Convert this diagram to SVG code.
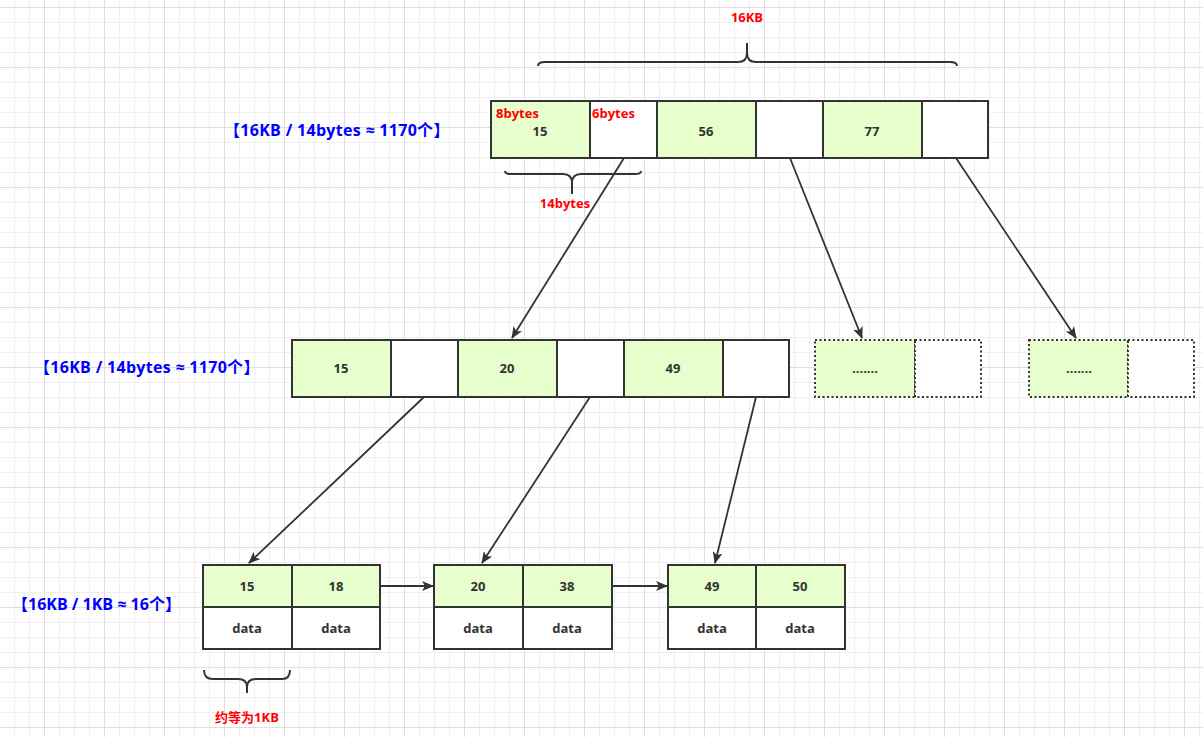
<svg xmlns="http://www.w3.org/2000/svg" width="1203" height="737" viewBox="0 0 1203 737">
<defs>
<pattern id="grid" x="44" y="7" width="60" height="60" patternUnits="userSpaceOnUse">
<rect x="0" y="0" width="60" height="60" fill="#ffffff"/>
<rect x="15" y="0" width="1" height="60" fill="#efefef"/>
<rect x="30" y="0" width="1" height="60" fill="#efefef"/>
<rect x="45" y="0" width="1" height="60" fill="#efefef"/>
<rect x="0" y="15" width="60" height="1" fill="#efefef"/>
<rect x="0" y="30" width="60" height="1" fill="#efefef"/>
<rect x="0" y="45" width="60" height="1" fill="#efefef"/>
<rect x="0" y="0" width="1" height="60" fill="#dedede"/>
<rect x="0" y="0" width="60" height="1" fill="#dedede"/>
</pattern>
<marker id="arr" viewBox="0 0 12 10" refX="11" refY="5" markerWidth="12" markerHeight="10" markerUnits="userSpaceOnUse" orient="auto">
<path d="M0,0 L12,5 L0,10 L3,5 Z" fill="#333333"/>
</marker>
</defs>
<style>
.g{fill:#e6ffcc;stroke:#333333;stroke-width:2}
.w{fill:#ffffff;stroke:#333333;stroke-width:2}
.gd{fill:#e6ffcc;stroke:#333333;stroke-width:2;stroke-dasharray:2 2.5}
.wd{fill:#ffffff;stroke:#333333;stroke-width:2;stroke-dasharray:2 2.5}
.t{font-family:"Open Sans","Noto Sans CJK SC",sans-serif;font-weight:bold;font-size:13px;fill:#333333;text-anchor:middle;dominant-baseline:central}
.red{font-family:"Open Sans","Noto Sans CJK SC",sans-serif;font-weight:bold;font-size:13px;fill:#ff0000}
.blue{font-family:"Open Sans","Noto Sans CJK SC",sans-serif;font-weight:bold;font-size:16px;letter-spacing:0.3px;fill:#0000ff;dominant-baseline:central}
.brace{fill:none;stroke:#333333;stroke-width:2}
.edge{fill:none;stroke:#333333;stroke-width:1.8;marker-end:url(#arr)}
</style>
<rect x="0" y="0" width="1203" height="737" fill="url(#grid)"/>

<g id="labels">
<text class="red" x="747" y="22" text-anchor="middle">16KB</text>
<text class="red" x="565" y="208" text-anchor="middle">14bytes</text>
<text class="red" x="247" y="722" text-anchor="middle">约等为1KB</text>
<text class="blue" x="224" y="130">【16KB / 14bytes ≈ 1170个】</text>
<text class="blue" x="34" y="367">【16KB / 14bytes ≈ 1170个】</text>
<text class="blue" x="12" y="604" style="letter-spacing:0">【16KB / 1KB ≈ 16个】</text>
</g>

<g id="braces">
<path class="brace" d="M538,66 Q538,62 545,62 L738,62 Q747,62 747,53 L747,43 M747,53 Q747,62 756,62 L950,62 Q957,62 957,66"/>
<path class="brace" d="M505,171 Q505,174 511,174 L563,174 Q572,174 572,183 L572,194 M572,183 Q572,174 581,174 L635,174 Q641,174 641,171"/>
<path class="brace" d="M204,670 Q204,679 213,679 L238,679 Q247,679 247,687 L247,693 M247,687 Q247,679 256,679 L282,679 Q290,679 290,670"/>
</g>

<g id="root">
<rect class="g" x="491" y="101" width="99" height="57"/>
<rect class="w" x="590" y="101" width="67" height="57"/>
<rect class="g" x="657" y="101" width="99" height="57"/>
<rect class="w" x="756" y="101" width="67" height="57"/>
<rect class="g" x="823" y="101" width="99" height="57"/>
<rect class="w" x="922" y="101" width="66" height="57"/>
<text class="t" x="540" y="131">15</text>
<text class="t" x="706" y="131">56</text>
<text class="t" x="872" y="131">77</text>
<text class="red" x="496" y="118">8bytes</text>
<text class="red" x="592" y="118">6bytes</text>
</g>

<g id="mid">
<rect class="g" x="292" y="340" width="99" height="57"/>
<rect class="w" x="391" y="340" width="67" height="57"/>
<rect class="g" x="458" y="340" width="99" height="57"/>
<rect class="w" x="557" y="340" width="67" height="57"/>
<rect class="g" x="624" y="340" width="99" height="57"/>
<rect class="w" x="723" y="340" width="66" height="57"/>
<text class="t" x="341" y="368">15</text>
<text class="t" x="507" y="368">20</text>
<text class="t" x="673" y="368">49</text>
</g>

<g id="mid2">
<rect class="gd" x="815" y="340" width="100" height="57"/>
<rect class="wd" x="915" y="340" width="66" height="57"/>
<text class="t" x="865" y="368">.......</text>
</g>

<g id="mid3">
<rect class="gd" x="1029" y="340" width="99" height="57"/>
<rect class="wd" x="1128" y="340" width="66" height="57"/>
<text class="t" x="1079" y="368">.......</text>
</g>

<g id="leaf1">
<rect class="g" x="203" y="565" width="89" height="42"/>
<rect class="g" x="292" y="565" width="88" height="42"/>
<rect class="w" x="203" y="607" width="89" height="42"/>
<rect class="w" x="292" y="607" width="88" height="42"/>
<text class="t" x="247" y="586">15</text>
<text class="t" x="336" y="586">18</text>
<text class="t" x="247" y="628">data</text>
<text class="t" x="336" y="628">data</text>
</g>

<g id="leaf2">
<rect class="g" x="434" y="565" width="89" height="42"/>
<rect class="g" x="523" y="565" width="89" height="42"/>
<rect class="w" x="434" y="607" width="89" height="42"/>
<rect class="w" x="523" y="607" width="89" height="42"/>
<text class="t" x="478" y="586">20</text>
<text class="t" x="567" y="586">38</text>
<text class="t" x="478" y="628">data</text>
<text class="t" x="567" y="628">data</text>
</g>

<g id="leaf3">
<rect class="g" x="668" y="565" width="88" height="42"/>
<rect class="g" x="756" y="565" width="89" height="42"/>
<rect class="w" x="668" y="607" width="88" height="42"/>
<rect class="w" x="756" y="607" width="89" height="42"/>
<text class="t" x="712" y="586">49</text>
<text class="t" x="800" y="586">50</text>
<text class="t" x="712" y="628">data</text>
<text class="t" x="800" y="628">data</text>
</g>

<g id="connectors">
<path class="edge" d="M624,158 L512,338"/>
<path class="edge" d="M790,158 L862,338"/>
<path class="edge" d="M956,158 L1076,338"/>
<path class="edge" d="M424,397 L249,563"/>
<path class="edge" d="M590,397 L482,563"/>
<path class="edge" d="M756,397 L715,563"/>
<path class="edge" d="M380,586 L433,586"/>
<path class="edge" d="M612,586 L667,586"/>
</g>
</svg>
